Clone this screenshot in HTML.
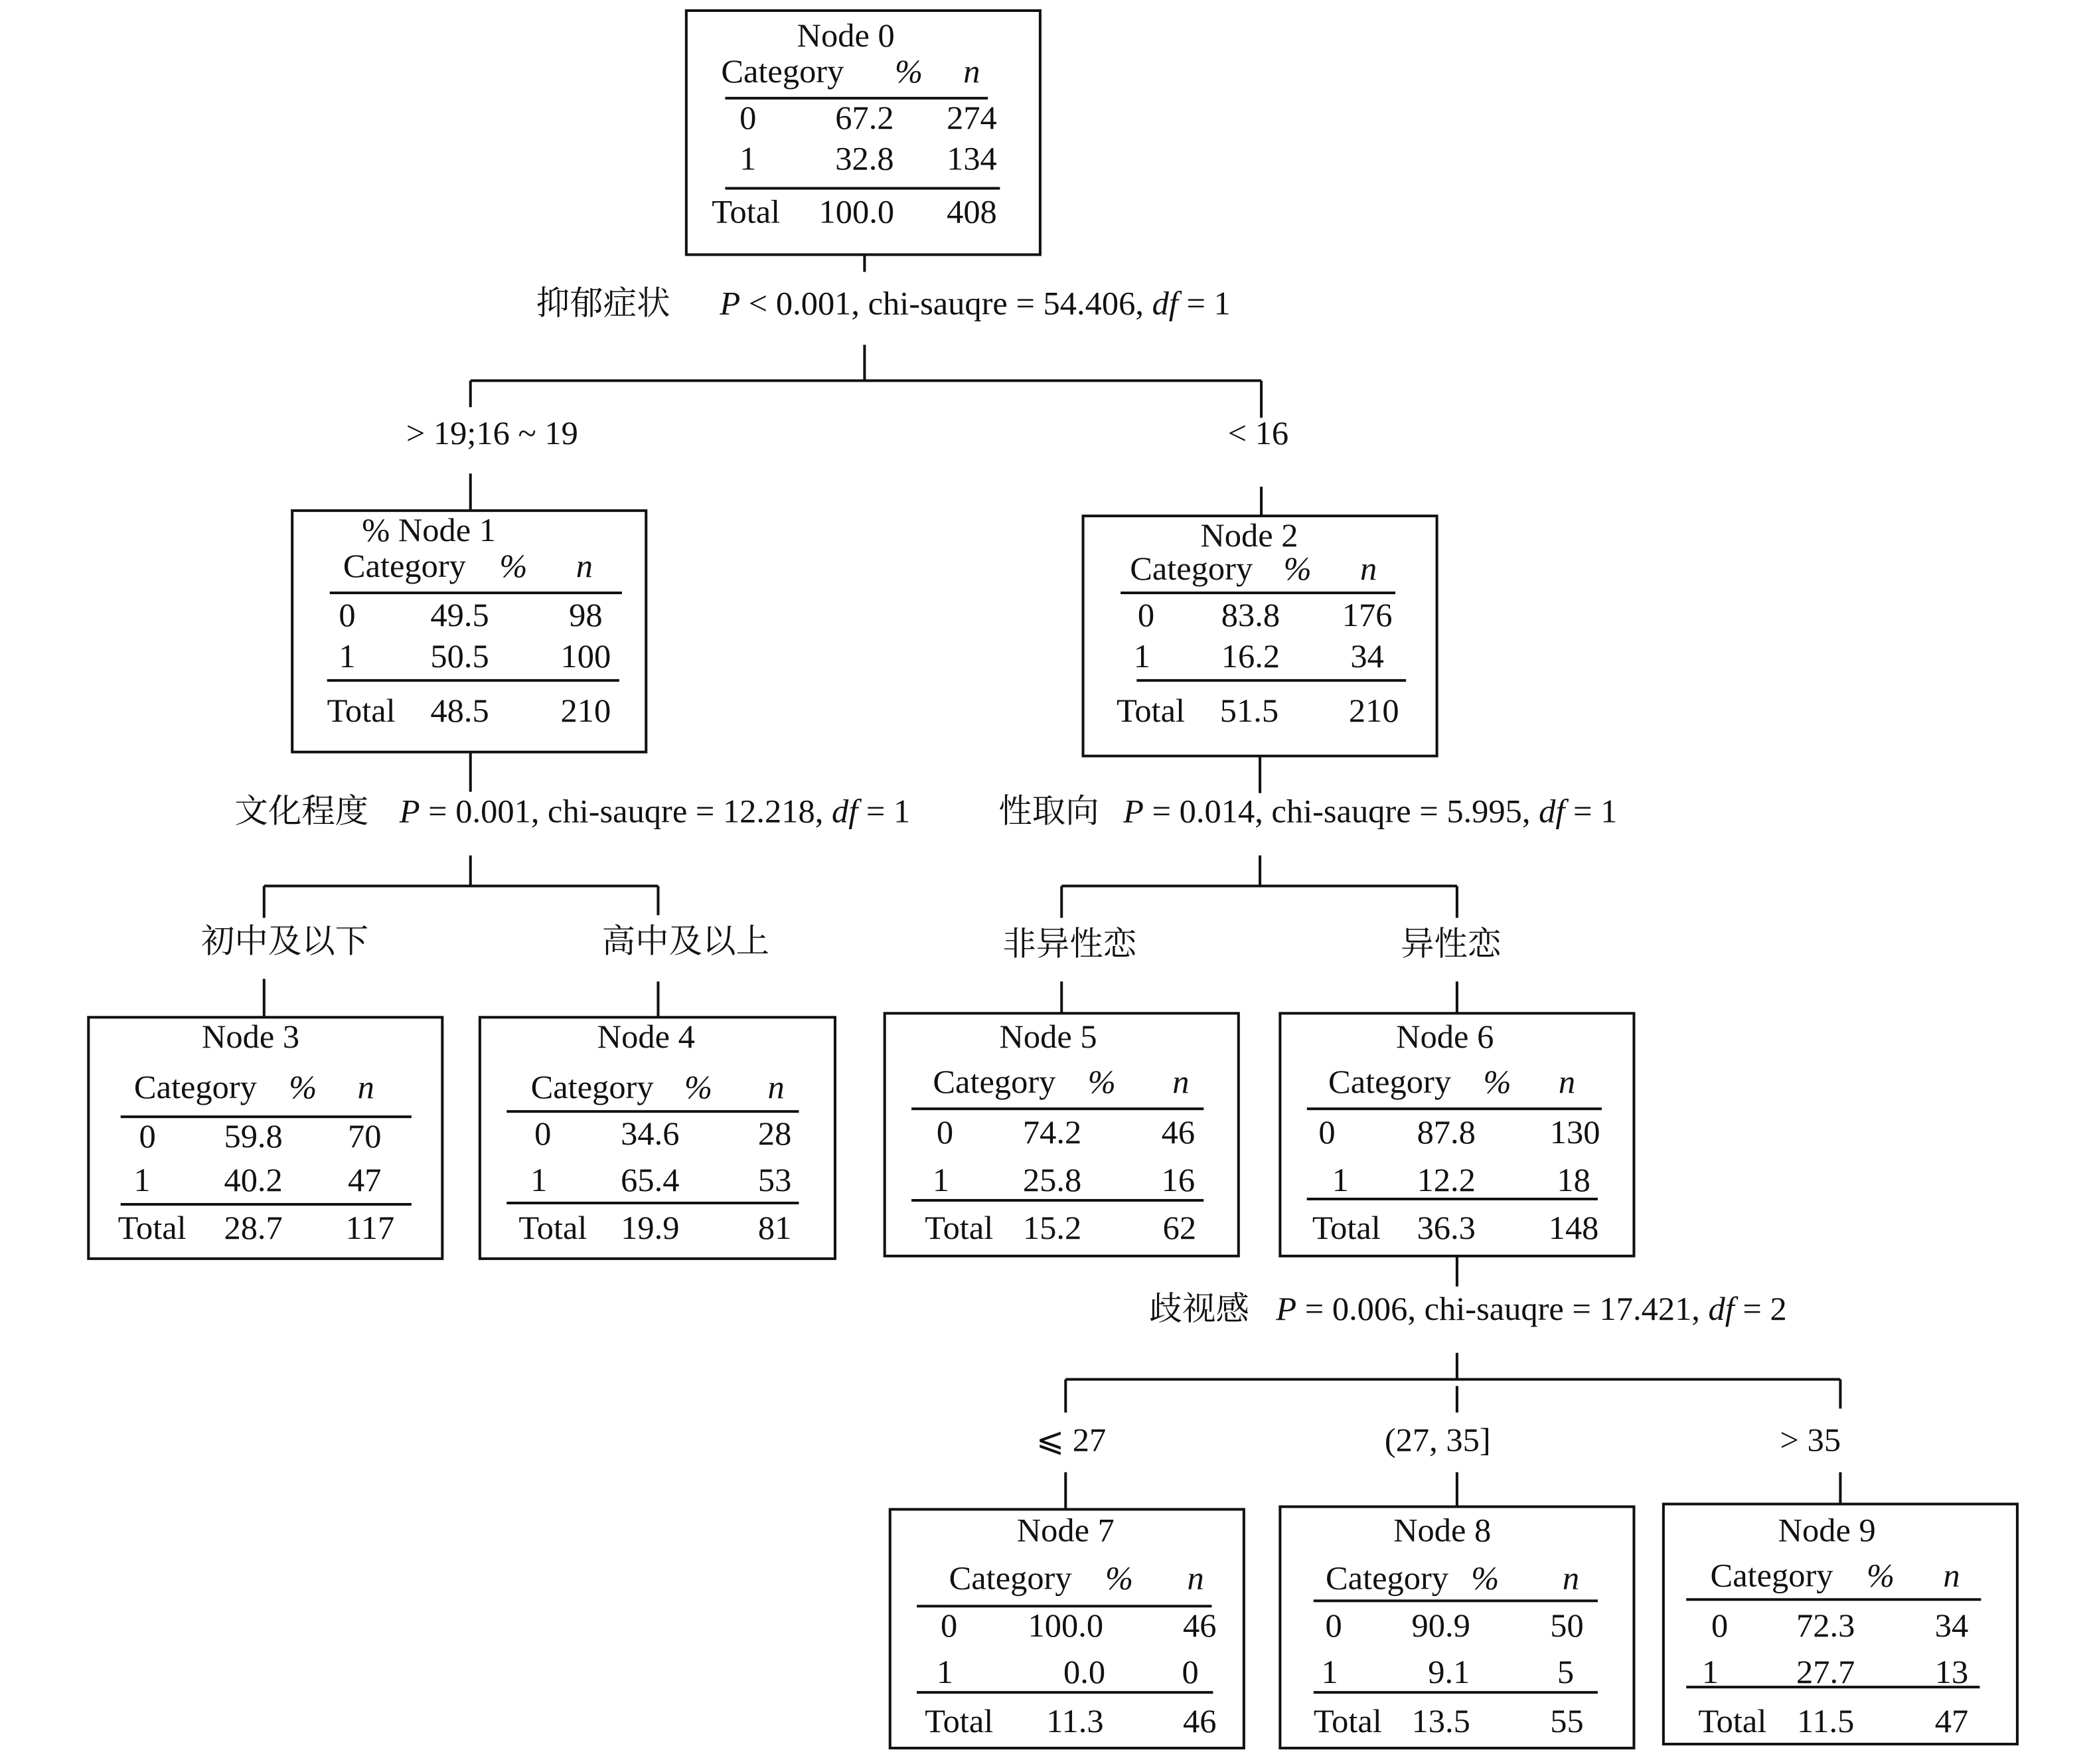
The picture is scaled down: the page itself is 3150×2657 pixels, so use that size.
<!DOCTYPE html>
<html><head><meta charset="utf-8"><style>
html,body{margin:0;padding:0;background:#fff;}
svg{display:block;}
text{font-family:"Liberation Serif","Noto Serif CJK SC",serif;font-size:25px;fill:#111;}
.c{font-family:"Noto Serif CJK SC","Liberation Serif",serif;}
.m{text-anchor:middle;}
.i{font-style:italic;}
line,rect{stroke:#111;stroke-width:2;fill:none;}
</style></head><body>
<svg width="3150" height="2657" viewBox="0 0 1560 1330" preserveAspectRatio="none" xmlns="http://www.w3.org/2000/svg">
<!-- Node 0 -->
<rect x="512" y="8" width="264" height="184"/>
<text x="631" y="35" class="m">Node 0</text>
<text x="538" y="62">Category</text><text x="678" y="62" class="m i">%</text><text x="725" y="62" class="m i">n</text>
<line x1="541" y1="74" x2="737" y2="74"/>
<text x="558" y="97" class="m">0</text><text x="645" y="97" class="m">67.2</text><text x="725" y="97" class="m">274</text>
<text x="558" y="128" class="m">1</text><text x="645" y="128" class="m">32.8</text><text x="725" y="128" class="m">134</text>
<line x1="541" y1="142" x2="746" y2="142"/>
<text x="531" y="168">Total</text><text x="639" y="168" class="m">100.0</text><text x="725" y="168" class="m">408</text>
<line x1="645" y1="192" x2="645" y2="205"/>
<text x="400" y="237" class="c">抑郁症状</text>
<text x="537" y="237"><tspan class="i">P</tspan> &lt; 0.001, chi-sauqre = 54.406, <tspan class="i">df</tspan> = 1</text>
<line x1="645" y1="260" x2="645" y2="287"/>
<line x1="351" y1="287" x2="941" y2="287"/>
<line x1="351" y1="287" x2="351" y2="307"/>
<line x1="941" y1="287" x2="941" y2="315"/>
<text x="303" y="335">&gt; 19;16 ~ 19</text>
<text x="916" y="335">&lt; 16</text>
<line x1="351" y1="357" x2="351" y2="385"/>
<line x1="941" y1="367" x2="941" y2="389"/>
<!-- Node 1 -->
<rect x="218" y="385" width="264" height="182"/>
<text x="270" y="408">% Node 1</text>
<text x="256" y="435">Category</text><text x="383" y="435" class="m i">%</text><text x="436" y="435" class="m i">n</text>
<line x1="246" y1="447" x2="464" y2="447"/>
<text x="259" y="472" class="m">0</text><text x="343" y="472" class="m">49.5</text><text x="437" y="472" class="m">98</text>
<text x="259" y="503" class="m">1</text><text x="343" y="503" class="m">50.5</text><text x="437" y="503" class="m">100</text>
<line x1="244" y1="513" x2="462" y2="513"/>
<text x="244" y="544">Total</text><text x="343" y="544" class="m">48.5</text><text x="437" y="544" class="m">210</text>
<!-- Node 2 -->
<rect x="808" y="389" width="264" height="181"/>
<text x="932" y="412" class="m">Node 2</text>
<text x="843" y="437">Category</text><text x="968" y="437" class="m i">%</text><text x="1021" y="437" class="m i">n</text>
<line x1="836" y1="447" x2="1041" y2="447"/>
<text x="855" y="472" class="m">0</text><text x="933" y="472" class="m">83.8</text><text x="1020" y="472" class="m">176</text>
<text x="852" y="503" class="m">1</text><text x="933" y="503" class="m">16.2</text><text x="1020" y="503" class="m">34</text>
<line x1="848" y1="513" x2="1049" y2="513"/>
<text x="833" y="544">Total</text><text x="932" y="544" class="m">51.5</text><text x="1025" y="544" class="m">210</text>
<!-- connectors level 2 -->
<line x1="351" y1="567" x2="351" y2="597"/>
<text x="175" y="620" class="c">文化程度</text>
<text x="298" y="620"><tspan class="i">P</tspan> = 0.001, chi-sauqre = 12.218, <tspan class="i">df</tspan> = 1</text>
<line x1="351" y1="645" x2="351" y2="668"/>
<line x1="197" y1="668" x2="491" y2="668"/>
<line x1="197" y1="668" x2="197" y2="692"/>
<line x1="491" y1="668" x2="491" y2="690"/>
<text x="150" y="718" class="c">初中及以下</text>
<text x="449" y="718" class="c">高中及以上</text>
<line x1="197" y1="738" x2="197" y2="767"/>
<line x1="491" y1="740" x2="491" y2="767"/>
<line x1="940" y1="570" x2="940" y2="598"/>
<text x="745" y="620" class="c">性取向</text>
<text x="838" y="620"><tspan class="i">P</tspan>  =  0.014, chi-sauqre = 5.995, <tspan class="i">df</tspan> = 1</text>
<line x1="940" y1="645" x2="940" y2="668"/>
<line x1="792" y1="668" x2="1087" y2="668"/>
<line x1="792" y1="668" x2="792" y2="692"/>
<line x1="1087" y1="668" x2="1087" y2="692"/>
<text x="748" y="720" class="c">非异性恋</text>
<text x="1045" y="720" class="c">异性恋</text>
<line x1="792" y1="740" x2="792" y2="764"/>
<line x1="1087" y1="740" x2="1087" y2="764"/>
<!-- Node 3 -->
<rect x="66" y="767" width="264" height="182"/>
<text x="187" y="790" class="m">Node 3</text>
<text x="100" y="828">Category</text><text x="226" y="828" class="m i">%</text><text x="273" y="828" class="m i">n</text>
<line x1="90" y1="842" x2="307" y2="842"/>
<text x="110" y="865" class="m">0</text><text x="189" y="865" class="m">59.8</text><text x="272" y="865" class="m">70</text>
<text x="106" y="898" class="m">1</text><text x="189" y="898" class="m">40.2</text><text x="272" y="898" class="m">47</text>
<line x1="90" y1="908" x2="307" y2="908"/>
<text x="88" y="934">Total</text><text x="189" y="934" class="m">28.7</text><text x="276" y="934" class="m">117</text>
<!-- Node 4 -->
<rect x="358" y="767" width="265" height="182"/>
<text x="482" y="790" class="m">Node 4</text>
<text x="396" y="828">Category</text><text x="521" y="828" class="m i">%</text><text x="579" y="828" class="m i">n</text>
<line x1="378" y1="838" x2="596" y2="838"/>
<text x="405" y="863" class="m">0</text><text x="485" y="863" class="m">34.6</text><text x="578" y="863" class="m">28</text>
<text x="402" y="898" class="m">1</text><text x="485" y="898" class="m">65.4</text><text x="578" y="898" class="m">53</text>
<line x1="378" y1="907" x2="596" y2="907"/>
<text x="387" y="934">Total</text><text x="485" y="934" class="m">19.9</text><text x="578" y="934" class="m">81</text>
<!-- Node 5 -->
<rect x="660" y="764" width="264" height="183"/>
<text x="782" y="790" class="m">Node 5</text>
<text x="696" y="824">Category</text><text x="822" y="824" class="m i">%</text><text x="881" y="824" class="m i">n</text>
<line x1="680" y1="836" x2="898" y2="836"/>
<text x="705" y="862" class="m">0</text><text x="785" y="862" class="m">74.2</text><text x="879" y="862" class="m">46</text>
<text x="702" y="898" class="m">1</text><text x="785" y="898" class="m">25.8</text><text x="879" y="898" class="m">16</text>
<line x1="680" y1="905" x2="898" y2="905"/>
<text x="690" y="934">Total</text><text x="785" y="934" class="m">15.2</text><text x="880" y="934" class="m">62</text>
<!-- Node 6 -->
<rect x="955" y="764" width="264" height="183"/>
<text x="1078" y="790" class="m">Node 6</text>
<text x="991" y="824">Category</text><text x="1117" y="824" class="m i">%</text><text x="1169" y="824" class="m i">n</text>
<line x1="975" y1="836" x2="1195" y2="836"/>
<text x="990" y="862" class="m">0</text><text x="1079" y="862" class="m">87.8</text><text x="1175" y="862" class="m">130</text>
<text x="1000" y="898" class="m">1</text><text x="1079" y="898" class="m">12.2</text><text x="1174" y="898" class="m">18</text>
<line x1="975" y1="904" x2="1192" y2="904"/>
<text x="979" y="934">Total</text><text x="1079" y="934" class="m">36.3</text><text x="1174" y="934" class="m">148</text>
<!-- level 3 connector -->
<line x1="1087" y1="947" x2="1087" y2="970"/>
<text x="857" y="995" class="c">歧视感</text>
<text x="952" y="995"><tspan class="i">P</tspan> = 0.006, chi-sauqre = 17.421, <tspan class="i">df</tspan> = 2</text>
<line x1="1087" y1="1020" x2="1087" y2="1040"/>
<line x1="795" y1="1040" x2="1373" y2="1040"/>
<line x1="795" y1="1040" x2="795" y2="1065"/>
<line x1="1087" y1="1045" x2="1087" y2="1065"/>
<line x1="1373" y1="1040" x2="1373" y2="1062"/>
<text x="773" y="1094">⩽ 27</text>
<text x="1033" y="1094">(27, 35]</text>
<text x="1328" y="1094">&gt; 35</text>
<line x1="795" y1="1110" x2="795" y2="1138"/>
<line x1="1087" y1="1110" x2="1087" y2="1136"/>
<line x1="1373" y1="1110" x2="1373" y2="1134"/>
<!-- Node 7 -->
<rect x="664" y="1138" width="264" height="180"/>
<text x="795" y="1162" class="m">Node 7</text>
<text x="708" y="1198">Category</text><text x="835" y="1198" class="m i">%</text><text x="892" y="1198" class="m i">n</text>
<line x1="684" y1="1211" x2="904" y2="1211"/>
<text x="708" y="1234" class="m">0</text><text x="795" y="1234" class="m">100.0</text><text x="895" y="1234" class="m">46</text>
<text x="705" y="1269" class="m">1</text><text x="809" y="1269" class="m">0.0</text><text x="888" y="1269" class="m">0</text>
<line x1="684" y1="1276" x2="905" y2="1276"/>
<text x="690" y="1306">Total</text><text x="802" y="1306" class="m">11.3</text><text x="895" y="1306" class="m">46</text>
<!-- Node 8 -->
<rect x="955" y="1136" width="264" height="182"/>
<text x="1076" y="1162" class="m">Node 8</text>
<text x="989" y="1198">Category</text><text x="1108" y="1198" class="m i">%</text><text x="1172" y="1198" class="m i">n</text>
<line x1="980" y1="1207" x2="1192" y2="1207"/>
<text x="995" y="1234" class="m">0</text><text x="1075" y="1234" class="m">90.9</text><text x="1169" y="1234" class="m">50</text>
<text x="992" y="1269" class="m">1</text><text x="1081" y="1269" class="m">9.1</text><text x="1168" y="1269" class="m">5</text>
<line x1="980" y1="1276" x2="1192" y2="1276"/>
<text x="980" y="1306">Total</text><text x="1075" y="1306" class="m">13.5</text><text x="1169" y="1306" class="m">55</text>
<!-- Node 9 -->
<rect x="1241" y="1134" width="264" height="181"/>
<text x="1363" y="1162" class="m">Node 9</text>
<text x="1276" y="1196">Category</text><text x="1403" y="1196" class="m i">%</text><text x="1456" y="1196" class="m i">n</text>
<line x1="1258" y1="1206" x2="1478" y2="1206"/>
<text x="1283" y="1234" class="m">0</text><text x="1362" y="1234" class="m">72.3</text><text x="1456" y="1234" class="m">34</text>
<text x="1276" y="1269" class="m">1</text><text x="1362" y="1269" class="m">27.7</text><text x="1456" y="1269" class="m">13</text>
<line x1="1258" y1="1272" x2="1477" y2="1272"/>
<text x="1267" y="1306">Total</text><text x="1362" y="1306" class="m">11.5</text><text x="1456" y="1306" class="m">47</text>
</svg>
</body></html>
